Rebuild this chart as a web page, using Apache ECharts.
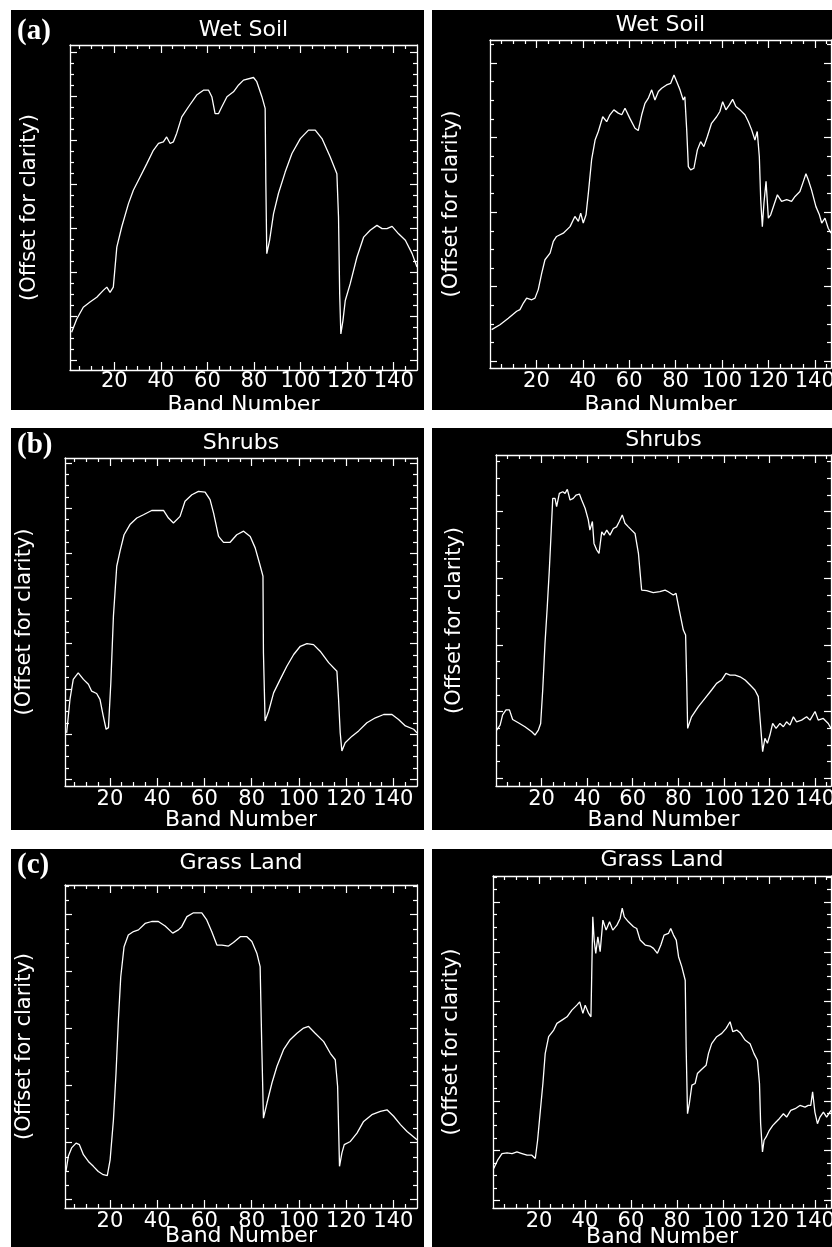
<!DOCTYPE html>
<html>
<head>
<meta charset="utf-8">
<title>Spectral profiles</title>
<script src="https://cdn.jsdelivr.net/npm/echarts@6/dist/echarts.min.js"></script>
<style>
body { margin: 0; background: #fff; width: 832px; height: 1247px; position: relative; overflow: hidden; }
.panel { position: absolute; background: #000; }
</style>
</head>
<body>
<div class="panel" id="aL" style="left:11px;top:10px;width:413px;height:400px"></div>
<div class="panel" id="aR" style="left:432px;top:10px;width:400px;height:400px"></div>
<div class="panel" id="bL" style="left:11px;top:428px;width:413px;height:402px"></div>
<div class="panel" id="bR" style="left:432px;top:428px;width:400px;height:402px"></div>
<div class="panel" id="cL" style="left:11px;top:849px;width:413px;height:398px"></div>
<div class="panel" id="cR" style="left:432px;top:849px;width:400px;height:398px"></div>
<script>
// band numbers and relative reflectance (% of plot height, offset for clarity)
var wetSoilLeftBands = [1.7,3.9,6.7,9.6,12.5,15.3,16.8,18.2,19.6,21.1,23.2,26.1,28.2,31.1,34,36.8,39,41.1,42.5,44,45.4,46.8,49,51.9,55.4,58.3,60.5,61.9,63.3,64.8,66.2,68.4,71.2,73.4,75.5,79.8,81.2,83.4,84.8,85.1,85.5,86.7,88.4,90.5,93.4,96.3,99.9,103.4,106.3,109.2,112.7,115.6,116.3,116.8,117.3,118.2,119.2,121.3,124.2,127.1,129.9,132.8,135,137.1,139.3,142.1,145,147.9,150];
var wetSoilLeftValues = [11.6,15.7,19.3,20.9,22.4,24.5,25.5,23.9,25.5,37.8,44,51.2,55.3,59.4,63.5,67.6,69.7,70.2,71.7,69.7,70.2,72.8,77.9,81,84.6,86.1,86.1,84.1,78.9,78.9,81,84.1,85.6,87.7,89.2,90,88.7,84.1,80.5,57.3,35.8,39.9,48.1,54.3,60.9,66.6,71.2,73.8,73.8,71.2,65.6,60.4,47.1,23.4,11.1,15.2,21.4,26.5,34.7,40.9,43,44.5,43.5,43.5,44.2,41.9,39.9,35.8,31.7];

var wetSoilRightBands = [0.7,4.3,7.9,11.5,12.9,14.4,15.8,18,19.4,20.8,22.3,23.7,25.9,27.3,28.7,31.6,34.5,36.6,38.1,39.1,40.2,41.4,42.4,43.8,45.3,46.7,48.6,50.3,51.7,53.4,55.3,56.8,58.2,60.3,62.5,63.9,65.4,66.8,68.2,69.7,71.1,72.6,74,76.1,77.9,79.3,80.5,81.9,83.3,84,84.8,85.5,86.5,87.9,89.4,90.8,92.2,93.7,95.5,97.7,99.1,100.3,101.7,103.2,104.6,106,107.8,109.9,111.4,112.8,114.2,115.2,116.1,116.7,117.4,118.1,119,120,121,122.4,123.9,125.7,127.9,130,131.5,133.6,135.1,136.2,137.2,138.6,140.5,142,143,144.4,145.8,147];
var wetSoilRightValues = [11.7,13.2,15.2,17.3,17.8,19.8,21.3,20.8,21.3,23.9,28.9,33,35,38.6,40.1,41.1,43.1,46.2,44.7,47.2,44.2,46.7,53.3,63.5,69.5,72.1,76.6,75.1,77.2,78.7,77.7,77.2,79.2,76.1,73.1,72.4,77.2,80.7,82.2,84.8,81.7,84.3,85.3,86.3,86.8,89.3,87.3,84.8,81.7,82.7,72.6,61.4,60.4,60.9,66.5,69,67.5,70.6,74.6,76.6,78.2,81.2,78.7,80.2,81.9,79.7,78.7,77.2,75.1,72.6,69.5,72.1,64.5,51.3,43.1,50.3,56.9,45.7,46.7,49.7,52.8,50.8,51.3,50.8,52.3,53.8,56.9,59.2,57.4,54.3,49.2,46.7,44.2,45.7,42.6,41.1];

var shrubsLeftBands = [1.7,3.1,4.5,6.6,8.8,10.9,12.3,14.4,15.8,17.2,18.4,19.4,20.4,21.5,22.9,24.3,26,28.5,31.4,34.2,37.7,42.7,44.8,46.9,49.7,51.8,54.7,57.5,60.3,62.4,63.9,66,68.1,70.9,73.7,76.6,79.4,81.5,83.3,84.8,85,85.7,87.2,89.3,92.1,94.9,97.8,100.6,103.4,106.2,109,112.6,116.1,116.8,117.5,118.2,119.6,122.5,125.3,128.8,132.4,135.9,139.4,142.2,145.1,148.6,150];
var shrubsLeftValues = [16.2,26.4,32.5,34.5,32.5,31,28.9,28.2,26.4,21.3,17.3,17.8,31.5,51.8,67,71.6,76.6,79.7,81.7,82.7,84,84,81.7,80.2,82.2,86.8,88.8,89.8,89.6,87.3,83.2,76.1,74.3,74.3,76.6,77.7,76.1,72.6,68,64,40.6,19.8,22.8,28.4,32.5,36.5,40.1,42.6,43.4,43.1,41.1,37.6,35,26.4,16.2,10.7,13.2,15.2,16.8,19.3,20.8,21.8,21.8,20.3,18.3,17.3,16.2];

var shrubsRightBands = [0.3,1.8,2.9,4.4,5.9,7.3,9.8,12.7,15.7,17.1,18.6,19.6,20.5,21.5,22.5,23.4,24.1,24.9,25.9,26.6,27.8,29.3,30.3,31.3,32.5,33.9,35.1,36.6,37.6,39.1,40.5,41.2,42.3,43,44.2,45.2,46.4,47.4,48.6,50,51.5,52.9,54.1,55.4,56.6,58.1,59.5,61,62.5,63.9,66.1,69,71.9,74.2,75.6,77.8,79,80.4,82.2,83.2,83.7,84.1,85.8,88.8,91.7,94.6,96.8,99,100.9,102.7,104.9,107.1,109.3,111.5,113.6,115.1,115.8,117,118,119.1,120.2,121.4,122.9,124.6,126.1,127.5,129,130.5,131.9,134.1,136.3,137.8,140,141.4,143.6,145.8,147];
var shrubsRightValues = [16.9,18.4,21.5,23,23,20.1,19.1,17.9,16.4,15.4,16.9,18.9,29,43.1,54.2,65.3,75.3,86.9,86.9,84.4,88.4,88.9,88.4,89.6,86.4,86.9,87.9,88.2,86.4,83.9,80.4,77.3,79.9,73.3,71.3,70.3,76.8,75.8,77.3,75.8,77.8,78.3,79.9,81.9,79.4,78.3,77.3,76.3,70.3,59.2,59,58.4,58.7,59.2,58.7,57.7,58.2,53.2,47.1,45.6,31,17.4,20.9,24,26.5,29,31,32,34,33.5,33.5,33,32,30.5,29,27,20.9,10.4,14.4,12.9,15.4,18.9,17.4,18.9,17.9,19.4,18.4,20.9,19.4,19.9,20.9,19.9,22.5,19.9,20.4,18.9,17.4];

var grassLeftBands = [1.4,2.4,3.8,5.7,7.1,8.8,10.9,13,15.1,17.2,18.9,20.1,21.5,22.6,23.6,24.6,26,27.8,30,32.1,34.9,37.7,40.5,43.4,46.6,49,50.4,52.6,55.4,58.9,61,63.1,65.3,67.4,70.2,72.3,75.2,78,80.1,82.2,83.6,84.3,85,86.5,88.6,90.7,93.5,96.3,99.2,102,104.1,106.9,110.5,113.3,115.4,116.4,117.2,118.2,119.2,121.8,124.6,127.4,130.9,134.5,137.3,140.1,143,145.8,150];
var grassLeftValues = [11.3,16,18.6,20.1,19.6,16.5,14.4,12.9,11.3,10.3,10,14.9,27.3,41.8,58.2,71.6,80.9,84.5,85.6,86.1,88.1,88.7,88.7,87.3,85.1,86.1,87.1,90.2,91.4,91.4,89.2,85.6,81.4,81.4,81.1,82.2,84,84,82.5,78.9,74.7,50,27.8,32.5,38.7,43.8,49,52.1,54.1,55.7,56.2,54.1,51.5,47.9,45.9,37.6,12.9,17,19.6,20.6,23.2,26.8,28.9,29.9,30.4,28.4,25.8,23.7,21.1];

var grassRightBands = [0.3,2,3.9,6.1,8.3,10.4,12.6,14.8,16.9,18.4,19.4,20.6,21.7,22.7,24.2,26.4,27.8,30,32.2,34.3,36.5,37.7,39.1,40.1,41.6,42.6,43,43.4,44,44.7,45.6,46.6,47.8,49.2,50.7,52.1,53.9,55.3,56.2,57.1,58.9,61.1,62.5,64,66.2,68.3,69.8,71.5,73,74.4,76.3,77.3,78.5,79.7,80.7,82.1,83.6,84,84.6,85.4,86.5,87.9,88.9,90.8,92.7,93.7,95.1,97.3,99.5,101.4,103.1,104.3,106,107.7,109.6,111.8,113.5,115,115.9,116.4,117.2,117.9,118.8,120.2,121.7,123.1,124.5,126.3,127.7,129.5,131.4,133.5,135.7,137.1,138.2,139,140,141.1,142.2,143.7,145.1,147];
var grassRightValues = [11.9,14.4,16.4,16.6,16.4,16.9,16.4,15.9,15.9,14.9,20.4,29.4,37.5,46.5,51.6,53.6,55.6,56.6,57.6,59.6,61.1,62.1,58.6,61.1,58.6,57.6,72.7,87.7,80.7,76.7,81.7,77.2,86.7,83.7,86.2,83.7,85.2,87.2,90.3,87.7,86.2,84.7,84.2,80.7,79.2,78.9,78.2,76.7,79.2,82.2,82.7,84.2,82.2,80.7,75.7,72.7,68.6,48.5,28.4,31.5,37,37.5,40.5,41.8,43,46.5,49.5,51.6,52.6,54.1,56.1,53.1,53.6,52.6,50.6,49.5,46.5,44.5,37.5,25.4,16.9,20.4,21.4,23.4,24.9,25.9,26.9,28.4,27.4,29.4,29.9,30.9,30.4,30.9,30.9,35,28.9,25.4,27.4,28.9,27.4,29.4];

var FONT = 'DejaVu Sans';

// one entry per panel
var panels = [
  {id: 'aL', title: 'Wet Soil', tag: '(a)', tagTop: 7, bands: wetSoilLeftBands, values: wetSoilLeftValues,
   xMin: 1, xMax: 150, grid: {left: 59, top: 35, width: 347, height: 325}, yBase: 2.92, yStep: 13.54,
   titleY: 20, nameGap: 24, yNameGap: 30, labelMargin: 1},
  {id: 'aR', title: 'Wet Soil', bands: wetSoilRightBands, values: wetSoilRightValues,
   xMin: 0, xMax: 147, grid: {left: 58, top: 30, width: 341, height: 328}, yBase: 2.04, yStep: 22.74,
   titleY: 15, nameGap: 26, yNameGap: 28, labelMargin: 3},
  {id: 'bL', title: 'Shrubs', tag: '(b)', tagTop: 3, bands: shrubsLeftBands, values: shrubsLeftValues,
   xMin: 1, xMax: 150, grid: {left: 54, top: 30, width: 352, height: 328}, yBase: 2.04, yStep: 13.78,
   titleY: 15, nameGap: 23, yNameGap: 30, labelMargin: 3},
  {id: 'bR', title: 'Shrubs', bands: shrubsRightBands, values: shrubsRightValues,
   xMin: 0, xMax: 147, grid: {left: 64, top: 27, width: 335, height: 331}, yBase: 2.33, yStep: 20.15,
   titleY: 12, nameGap: 23, yNameGap: 31, labelMargin: 3},
  {id: 'cL', title: 'Grass Land', tag: '(c)', tagTop: 2, bands: grassLeftBands, values: grassLeftValues,
   xMin: 1, xMax: 150, grid: {left: 54, top: 36, width: 352, height: 323}, yBase: 2.57, yStep: 17.65,
   titleY: 14, nameGap: 17, yNameGap: 30, labelMargin: 3},
  {id: 'cR', title: 'Grass Land', bands: grassRightBands, values: grassRightValues,
   xMin: 0, xMax: 147, grid: {left: 61, top: 27, width: 338, height: 332}, yBase: 2.32, yStep: 14.97,
   titleY: 11, nameGap: 18, yNameGap: 31, labelMargin: 3}
];

// major / minor tick values, 4 minor steps between majors
function tickSets(base, step, lo, hi) {
  var m = step / 4, major = [], minor = [];
  var k0 = Math.ceil((lo - base) / m);
  for (var k = k0; base + k * m <= hi + 1e-6; k++) {
    var v = +(base + k * m).toFixed(3);
    if (v <= lo + 0.05 || v >= hi - 0.05) continue;
    if (((k % 4) + 4) % 4 === 0) major.push(v); else minor.push(v);
  }
  return {major: major, minor: minor};
}

function axis(pos, min, max, ticks, len, showLine) {
  return {
    type: 'value', position: pos, min: min, max: max,
    splitLine: {show: false},
    axisLine: {show: showLine, onZero: false, lineStyle: {color: '#fff', width: 1.3}},
    axisTick: {show: true, inside: true, length: len, customValues: ticks, lineStyle: {color: '#fff', width: 1.2}},
    axisLabel: {show: false}
  };
}

panels.forEach(function (p) {
  var chart = echarts.init(document.getElementById(p.id));
  var xt = tickSets(0, 20, p.xMin, p.xMax);
  var yt = tickSets(p.yBase, p.yStep, 0, 100);

  var xBottom = axis('bottom', p.xMin, p.xMax, xt.major, 8, true);
  xBottom.axisLabel = {show: true, customValues: xt.major, color: '#fff', fontSize: 21, fontFamily: FONT, margin: p.labelMargin};
  xBottom.name = 'Band Number';
  xBottom.nameLocation = 'middle';
  xBottom.nameGap = p.nameGap;
  xBottom.nameMoveOverlap = false;
  xBottom.nameTextStyle = {color: '#fff', fontSize: 22, fontFamily: FONT};

  var yLeft = axis('left', 0, 100, yt.major, 7, true);
  yLeft.name = '(Offset for clarity)';
  yLeft.nameLocation = 'middle';
  yLeft.nameGap = p.yNameGap;
  yLeft.nameTextStyle = {color: '#fff', fontSize: 21, fontFamily: FONT};

  var graphics = [{
    type: 'text', x: p.grid.left + p.grid.width / 2, y: p.titleY,
    style: {text: p.title, align: 'center', verticalAlign: 'middle', fill: '#fff', font: '22px "' + FONT + '"'}
  }];
  if (p.tag) {
    graphics.push({
      type: 'text', left: 6, top: p.tagTop,
      style: {text: p.tag, fill: '#fff', font: 'bold 29px "Liberation Serif"'}
    });
  }

  var grid = Object.assign({outerBoundsMode: 'none', containLabel: false}, p.grid);

  chart.setOption({
    animation: false,
    backgroundColor: '#000',
    grid: grid,
    xAxis: [
      xBottom,
      axis('bottom', p.xMin, p.xMax, xt.minor, 4, false),
      axis('top', p.xMin, p.xMax, xt.major, 8, true),
      axis('top', p.xMin, p.xMax, xt.minor, 4, false)
    ],
    yAxis: [
      yLeft,
      axis('left', 0, 100, yt.minor, 4, false),
      axis('right', 0, 100, yt.major, 7, true),
      axis('right', 0, 100, yt.minor, 4, false)
    ],
    graphic: graphics,
    series: [{
      type: 'line',
      xAxisIndex: 0, yAxisIndex: 0,
      data: p.bands.map(function (b, i) { return [b, p.values[i]]; }),
      showSymbol: false,
      silent: true,
      lineStyle: {color: '#fff', width: 1.3}
    }]
  });
});
</script>
</body>
</html>
